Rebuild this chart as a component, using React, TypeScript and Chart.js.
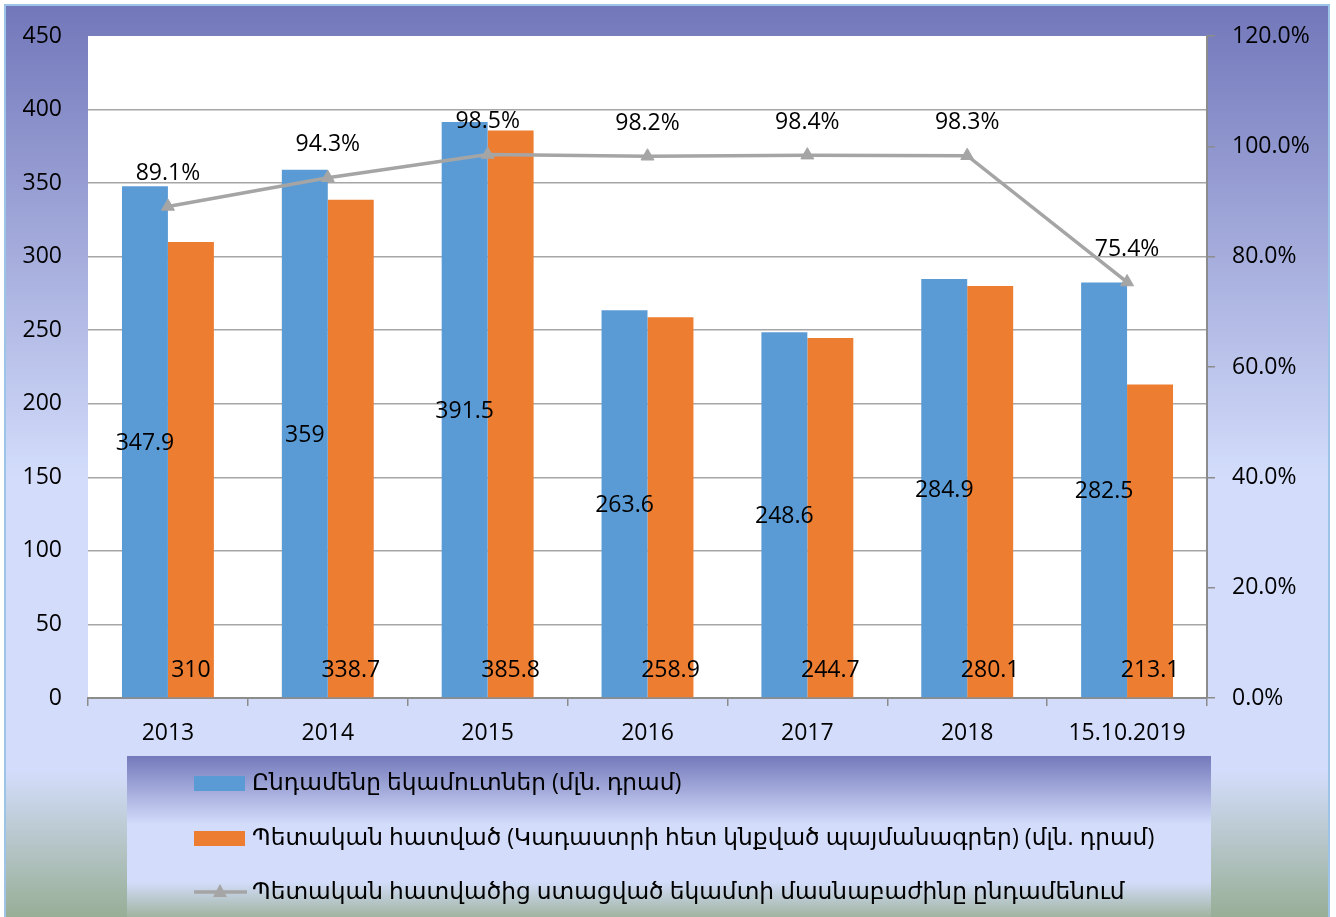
import React, { useEffect, useRef } from "react";
import { Chart, registerables } from "chart.js";

Chart.register(...registerables);

const categories = ["2013", "2014", "2015", "2016", "2017", "2018", "15.10.2019"];
const totalIncome = [347.9, 359, 391.5, 263.6, 248.6, 284.9, 282.5];
const stateSector = [310, 338.7, 385.8, 258.9, 244.7, 280.1, 213.1];
const sharePct = [89.1, 94.3, 98.5, 98.2, 98.4, 98.3, 75.4];
const seriesNames = [
  "Ընդամենը եկամուտներ (մլն. դրամ)",
  "Պետական հատված (Կադաստրի հետ կնքված պայմանագրեր) (մլն. դրամ)",
  "Պետական հատվածից ստացված եկամտի մասնաբաժինը ընդամենում",
];
const leftMax = 450;
const leftStep = 50;
const rightMax = 120;
const rightStep = 20;

const BLUE = "#5B9BD5";
const ORANGE = "#ED7D31";
const GRAY = "#A5A5A5";
const AXIS = "#8C8C8C";
const FONT = "'Open Sans', 'Noto Sans', 'DejaVu Sans', sans-serif";
const FS = 23;
const LFS = 23.3;

const backgroundPlugin = {
  id: "bgPlugin",
  beforeDraw(chart: any) {
    const { ctx, chartArea } = chart;
    const W = chart.width;
    const H = chart.height;
    ctx.save();
    ctx.fillStyle = "#ffffff";
    ctx.fillRect(0, 0, W, H);
    const g = ctx.createLinearGradient(0, 5, 0, H);
    g.addColorStop(0, "#7277BA");
    g.addColorStop(0.52, "#D3DDFB");
    g.addColorStop(0.84, "#D3DDFB");
    g.addColorStop(1, "#98AE96");
    ctx.fillStyle = g;
    ctx.fillRect(5, 5, 1324, H);
    ctx.strokeStyle = "#9DC3E6";
    ctx.lineWidth = 2;
    ctx.strokeRect(5, 5, 1324, H + 10);
    ctx.fillStyle = "#ffffff";
    ctx.fillRect(chartArea.left, chartArea.top, chartArea.right - chartArea.left, chartArea.bottom - chartArea.top);
    const lg = ctx.createLinearGradient(0, 756, 0, H);
    lg.addColorStop(0, "#7479BB");
    lg.addColorStop(0.43, "#D3DDFB");
    lg.addColorStop(0.78, "#D3DDFB");
    lg.addColorStop(1, "#A0B4A0");
    ctx.fillStyle = lg;
    ctx.fillRect(127, 756, 1084, H - 756);
    ctx.restore();
  },
};

const labelsPlugin = {
  id: "labelsPlugin",
  afterDatasetsDraw(chart: any) {
    const { ctx } = chart;
    ctx.save();
    ctx.font = `${FS}px ${FONT}`;
    ctx.fillStyle = "#000000";
    ctx.textAlign = "center";
    ctx.textBaseline = "middle";
    chart.data.datasets.forEach((ds: any, i: number) => {
      const meta = chart.getDatasetMeta(i);
      meta.data.forEach((el: any, j: number) => {
        const v = ds.data[j];
        if (ds.kind === "total") {
          ctx.fillText(String(v), el.x, (el.y + el.base) / 2 + 2);
        } else if (ds.kind === "state") {
          ctx.fillText(String(v), el.x, el.base - 27);
        } else if (ds.kind === "share") {
          ctx.fillText(v.toFixed(1) + "%", el.x, el.y - 33);
        }
      });
    });
    ctx.restore();
  },
};

const legendPlugin = {
  id: "legendPlugin",
  afterDraw(chart: any) {
    const { ctx } = chart;
    ctx.save();
    ctx.font = `${LFS}px ${FONT}`;
    ctx.textAlign = "left";
    ctx.textBaseline = "middle";
    const rows = [783, 838, 892];
    ctx.fillStyle = BLUE;
    ctx.fillRect(194, rows[0] - 7, 51, 15);
    ctx.fillStyle = ORANGE;
    ctx.fillRect(194, rows[1] - 7, 51, 15);
    ctx.strokeStyle = GRAY;
    ctx.lineWidth = 3.5;
    ctx.beginPath();
    ctx.moveTo(194, rows[2]);
    ctx.lineTo(247, rows[2]);
    ctx.stroke();
    ctx.fillStyle = GRAY;
    ctx.beginPath();
    ctx.moveTo(220, rows[2] - 8);
    ctx.lineTo(227, rows[2] + 5);
    ctx.lineTo(213, rows[2] + 5);
    ctx.closePath();
    ctx.fill();
    ctx.fillStyle = "#000000";
    seriesNames.forEach((n, i) => {
      ctx.fillText(n, 252, rows[i]);
    });
    ctx.restore();
  },
};

export default function App() {
  const ref = useRef<HTMLCanvasElement | null>(null);
  useEffect(() => {
    document.body.style.margin = "0";
    const canvas = ref.current;
    if (!canvas) return;
    const chart = new Chart(canvas, {
      type: "bar",
      data: {
        labels: categories,
        datasets: [
          {
            type: "line",
            kind: "share",
            label: seriesNames[2],
            data: sharePct,
            yAxisID: "y1",
            borderColor: GRAY,
            borderWidth: 3.5,
            pointStyle: "triangle",
            pointRadius: 7.5,
            pointBackgroundColor: GRAY,
            pointBorderColor: GRAY,
            pointBorderWidth: 1,
            order: 0,
          } as any,
          {
            type: "bar",
            kind: "total",
            label: seriesNames[0],
            data: totalIncome,
            yAxisID: "y",
            backgroundColor: BLUE,
            categoryPercentage: 0.575,
            barPercentage: 1,
            order: 1,
          } as any,
          {
            type: "bar",
            kind: "state",
            label: seriesNames[1],
            data: stateSector,
            yAxisID: "y",
            backgroundColor: ORANGE,
            categoryPercentage: 0.575,
            barPercentage: 1,
            order: 1,
          } as any,
        ],
      },
      options: {
        animation: false,
        responsive: false,
        maintainAspectRatio: false,
        layout: { padding: { top: 36, left: 0, right: 0, bottom: 0 } },
        plugins: {
          legend: { display: false },
          tooltip: { enabled: false },
        },
        scales: {
          x: {
            offset: true,
            grid: {
              offset: true,
              drawOnChartArea: false,
              drawTicks: true,
              tickLength: 8,
              color: AXIS,
              lineWidth: 1.5,
            },
            border: { display: true, color: AXIS, width: 2 },
            ticks: { font: { family: FONT, size: FS }, color: "#000", padding: 14, maxRotation: 0 },
            afterFit: (s: any) => {
              s.height = 219;
              s.paddingLeft = 0;
              s.paddingRight = 0;
            },
          },
          y: {
            position: "left",
            min: 0,
            max: leftMax,
            ticks: { stepSize: leftStep, font: { family: FONT, size: FS }, color: "#000", padding: 26 },
            grid: {
              drawTicks: false,
              color: (c: any) => (c.tick && c.tick.value === leftMax ? "rgba(0,0,0,0)" : "#A6A6A6"),
              lineWidth: 1.5,
            },
            border: { display: false },
            afterFit: (s: any) => {
              s.width = 88;
              s.paddingTop = 0;
              s.paddingBottom = 0;
            },
          },
          y1: {
            position: "right",
            min: 0,
            max: rightMax,
            ticks: {
              stepSize: rightStep,
              font: { family: FONT, size: FS },
              color: "#000",
              padding: 17,
              callback: (v: any) => Number(v).toFixed(1) + "%",
            },
            grid: { drawOnChartArea: false, drawTicks: true, tickLength: 8, color: AXIS, lineWidth: 1.5 },
            border: { display: true, color: AXIS, width: 2 },
            afterFit: (s: any) => {
              s.width = 129;
              s.paddingTop = 0;
              s.paddingBottom = 0;
            },
          },
        },
      } as any,
      plugins: [backgroundPlugin, labelsPlugin, legendPlugin],
    });
    return () => chart.destroy();
  }, []);
  return (
    <div style={{ width: 1336, height: 917 }}>
      <canvas ref={ref} width={1336} height={917} style={{ display: "block" }} />
    </div>
  );
}
